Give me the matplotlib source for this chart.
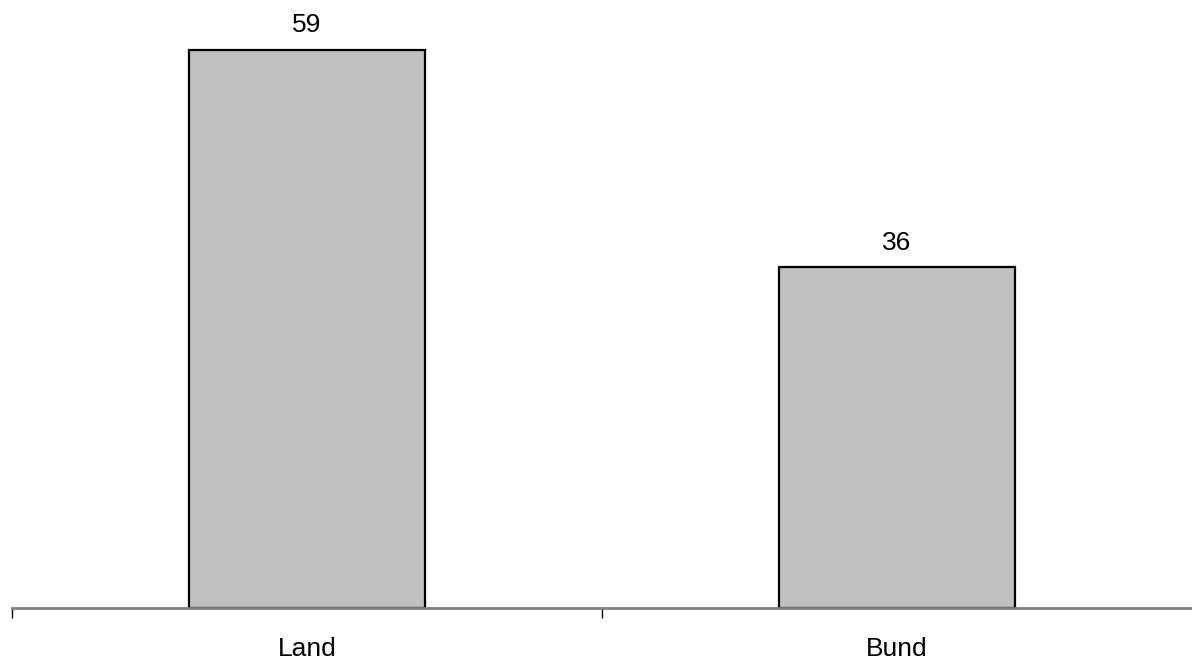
import matplotlib
matplotlib.use("Agg")
import matplotlib.pyplot as plt

categories = ["Land", "Bund"]
values = [59, 36]

plt.rcParams["font.family"] = ["Liberation Sans", "DejaVu Sans"]

fig = plt.figure(figsize=(11.92, 6.6), dpi=100)
ax = fig.add_axes([12 / 1192, (660 - 608) / 660, 1180 / 1192, 608 / 660])

x = list(range(len(categories)))
ax.bar(x, values, width=0.4, color="#C0C0C0", edgecolor="black", linewidth=1.6, zorder=2)
for xi, v in zip(x, values):
    ax.annotate(str(v), xy=(xi, v), xytext=(0, 17.5), textcoords="offset pixels",
                ha="center", va="baseline", fontsize=19, color="black")
for xi, c in zip(x, categories):
    ax.annotate(c, xy=(xi, 0), xycoords=("data", "axes fraction"), xytext=(0, -48),
                textcoords="offset pixels", ha="center", va="baseline", fontsize=19,
                color="black", annotation_clip=False)

ax.set_xlim(-0.5, len(categories) - 0.5)
ax.set_ylim(0, 608 / 9.46)
ax.set_xticks([i - 0.5 for i in x])
ax.set_xticklabels([])
ax.tick_params(axis="x", length=7, width=1.0, color="black")
ax.set_yticks([])
for s in ["top", "right", "left"]:
    ax.spines[s].set_visible(False)
ax.spines["bottom"].set_color("#808080")
ax.spines["bottom"].set_linewidth(2)

fig.savefig("out.png", dpi=100)
